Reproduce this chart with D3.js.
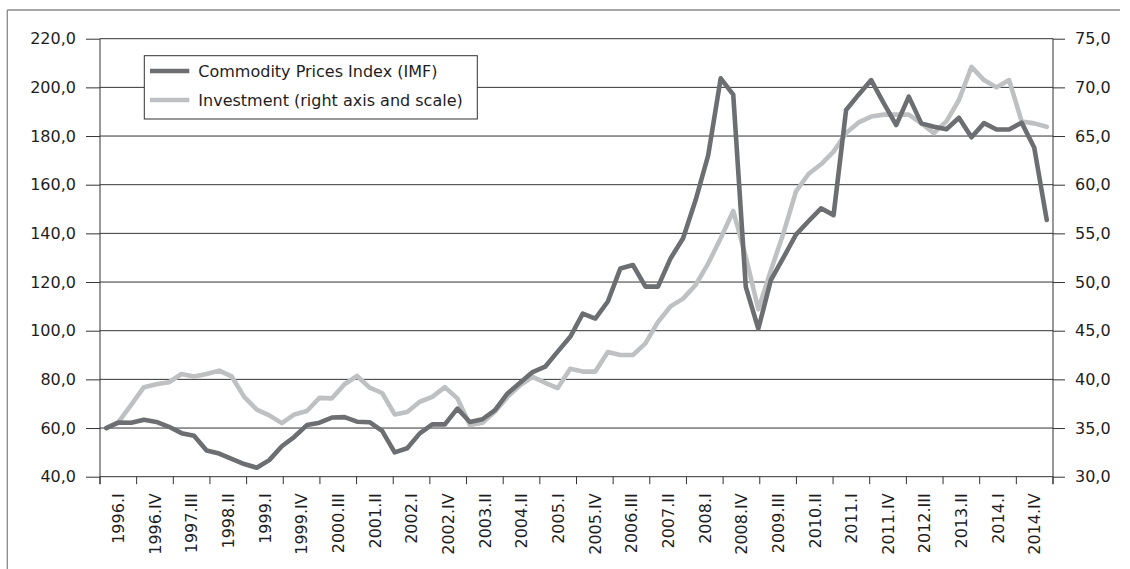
<!DOCTYPE html>
<html><head><meta charset="utf-8">
<script src="https://cdn.jsdelivr.net/npm/d3@7"></script>
<style>
body{margin:0;background:#fff}
svg{display:block}
text{font-family:"DejaVu Sans",Verdana,sans-serif;fill:#1e1e1e}
</style>
</head><body>
<svg id="chart" width="1130" height="569"></svg>
<script>
// ---- data ----
const years = d3.range(1996, 2015);
const romans = ["I", "II", "III", "IV"];
const quarters = years.flatMap(y => romans.map(r => y + "." + r));

const commodity = [
  60.0, 62.3, 62.2, 63.4, 62.5, 60.5, 57.9, 56.8, 50.8, 49.5,
  47.3, 45.2, 43.7, 46.8, 52.5, 56.4, 61.2, 62.2, 64.3, 64.5,
  62.6, 62.4, 58.8, 50.0, 51.7, 57.8, 61.5, 61.5, 68.0, 62.5,
  63.6, 67.4, 74.2, 78.6, 83.0, 85.2, 91.4, 97.5, 107.0, 105.0,
  112.0, 125.6, 127.0, 118.1, 118.1, 129.7, 138.0, 153.7, 172.1, 203.7,
  197.0, 118.0, 100.8, 120.8, 130.0, 139.5, 145.0, 150.3, 147.5, 190.7,
  197.0, 203.0, 193.5, 184.5, 196.2, 185.2, 183.8, 182.8, 187.5, 179.5,
  185.3, 182.7, 182.7, 185.5, 175.3, 145.5
];

const investment = [
  35.0, 35.65, 37.4, 39.2, 39.5, 39.7, 40.55, 40.3, 40.55, 40.9,
  40.3, 38.2, 36.9, 36.3, 35.5, 36.4, 36.75, 38.1, 38.05, 39.5,
  40.35, 39.15, 38.6, 36.4, 36.65, 37.7, 38.2, 39.2, 38.05, 35.3,
  35.55, 36.7, 38.2, 39.4, 40.25, 39.65, 39.1, 41.1, 40.8, 40.8,
  42.8, 42.5, 42.5, 43.7, 45.9, 47.5, 48.3, 49.7, 51.9, 54.5,
  57.3, 52.6, 47.2, 51.2, 55.0, 59.3, 61.1, 62.1, 63.4, 65.3,
  66.4, 67.0, 67.2, 67.2, 67.2, 66.3, 65.3, 66.5, 68.7, 72.1,
  70.75, 70.0, 70.75, 66.5, 66.3, 65.95
];

const tickLabels = ["1996.I","1996.IV","1997.III","1998.II","1999.I","1999.IV","2000.III",
  "2001.II","2002.I","2002.IV","2003.II","2004.II","2005.I","2005.IV","2006.III","2007.II",
  "2008.I","2008.IV","2009.III","2010.II","2011.I","2011.IV","2012.III","2013.II","2014.I","2014.IV"];

const leftTicks = d3.range(40, 221, 20);
const rightTicks = d3.range(30, 76, 5);
const seriesNames = ["Commodity Prices Index (IMF)", "Investment (right axis and scale)"];
const seriesColors = ["#6d6e71", "#bfc0c2"];

// ---- layout ----
const L = 100, R = 1053, T = 38.7, B = 476.7;
const fmt = v => v.toFixed(1).replace(".", ",");

const svg = d3.select("#chart");

// outer frame (partial, as in the reference)
svg.append("line").attr("x1", 7.3).attr("x2", 1120).attr("y1", 10).attr("y2", 10)
  .attr("stroke", "#8a8a8a").attr("stroke-width", 1.3);
svg.append("line").attr("x1", 7.3).attr("x2", 7.3).attr("y1", 10).attr("y2", 569)
  .attr("stroke", "#8a8a8a").attr("stroke-width", 1.3);

const x = d3.scaleBand().domain(quarters).range([L, R]);
const xc = q => x(q) + x.bandwidth() / 2;
const xl = d3.scaleBand().domain(tickLabels).range([L, R]);
const yL = d3.scaleLinear().domain([40, 220]).range([B, T]);
const yR = d3.scaleLinear().domain([30, 75]).range([B, T]);

// gridlines
svg.append("g").selectAll("line").data(leftTicks).join("line")
  .attr("x1", L).attr("x2", R)
  .attr("y1", d => yL(d)).attr("y2", d => yL(d))
  .attr("stroke", "#333").attr("stroke-width", 1);

// left axis
const gl = svg.append("g").attr("transform", `translate(${L},0)`)
  .call(d3.axisLeft(yL).tickValues(leftTicks).tickSize(14).tickSizeOuter(0).tickPadding(10).tickFormat(fmt));
// right axis
const gr = svg.append("g").attr("transform", `translate(${R},0)`)
  .call(d3.axisRight(yR).tickValues(rightTicks).tickSize(12).tickSizeOuter(0).tickPadding(10).tickFormat(fmt));
[gl, gr].forEach(g => {
  g.select(".domain").remove();
  g.selectAll(".tick line").attr("stroke", "#333");
  g.selectAll("text").attr("font-size", 16).attr("fill", "#1e1e1e")
    .attr("font-family", '"DejaVu Sans",Verdana,sans-serif');
});
// vertical axis lines
[L, R].forEach(px => svg.append("line").attr("x1", px).attr("x2", px)
  .attr("y1", T).attr("y2", B + 7.5).attr("stroke", "#333").attr("stroke-width", 1));

// bottom axis: labels centred in groups, tick marks at group boundaries
const gb = svg.append("g").attr("transform", `translate(0,${B})`)
  .call(d3.axisBottom(xl).tickSize(0).tickSizeOuter(0));
gb.select(".domain").remove();
gb.selectAll(".tick text")
  .attr("font-size", 16).attr("fill", "#1e1e1e")
  .attr("font-family", '"DejaVu Sans",Verdana,sans-serif')
  .attr("text-anchor", "end")
  .attr("transform", "translate(0,16.6) rotate(-90)")
  .attr("x", 0).attr("y", 0).attr("dy", "0.36em");
const boundaries = tickLabels.map(t => xl(t)).concat([R]);
svg.append("g").selectAll("line").data(boundaries).join("line")
  .attr("x1", d => d).attr("x2", d => d).attr("y1", B).attr("y2", B + 7.5)
  .attr("stroke", "#333").attr("stroke-width", 1);

// series lines
const lineL = d3.line().x((d, i) => xc(quarters[i])).y(d => yL(d));
const lineR = d3.line().x((d, i) => xc(quarters[i])).y(d => yR(d));
svg.append("path").datum(investment).attr("d", lineR)
  .attr("fill", "none").attr("stroke", seriesColors[1]).attr("stroke-width", 4.6)
  .attr("stroke-linejoin", "round").attr("stroke-linecap", "round");
svg.append("path").datum(commodity).attr("d", lineL)
  .attr("fill", "none").attr("stroke", seriesColors[0]).attr("stroke-width", 4.6)
  .attr("stroke-linejoin", "round").attr("stroke-linecap", "round");

// legend
const lg = svg.append("g");
lg.append("rect").attr("x", 144.3).attr("y", 55.7).attr("width", 333).attr("height", 63.3)
  .attr("fill", "#fff").attr("stroke", "#333").attr("stroke-width", 1);
seriesNames.forEach((name, i) => {
  const cy = 71 + i * 29;
  lg.append("line").attr("x1", 150).attr("x2", 189.3).attr("y1", cy).attr("y2", cy)
    .attr("stroke", seriesColors[i]).attr("stroke-width", 4.5);
  lg.append("text").attr("x", 198.3).attr("y", cy).attr("dy", "0.36em")
    .attr("font-size", 16).text(name);
});
</script>
</body></html>
